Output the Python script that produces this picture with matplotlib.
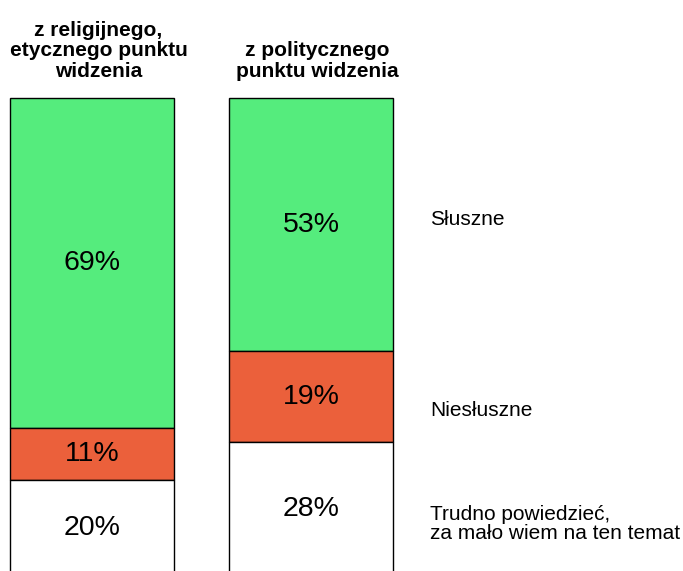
import numpy as np
import matplotlib.pyplot as plt

plt.rcParams['font.family'] = ['Liberation Sans', 'DejaVu Sans']

# dane
kategorie = ['z religijnego,\netycznego punktu\nwidzenia', 'z politycznego\npunktu widzenia']
serie = ['Słuszne', 'Niesłuszne', 'Trudno powiedzieć,\nza mało wiem na ten temat']
sluszne = [69, 53]
niesluszne = [11, 19]
trudno = [20, 28]

kolory = ['#55EC7D', '#EB603B', '#FFFFFF']
etykiety_y = [25.5, 65.3, 89.1]

fig = plt.figure(figsize=(6.83, 5.71), dpi=100)
ax = fig.add_axes([0, -0.0088, 1, 0.8372])
ax.set_xlim(-0.42, 2.699)
ax.set_ylim(100, 0)  # od gory do dolu
ax.axis('off')

x = np.arange(len(kategorie))
dol = np.zeros(len(kategorie))
for wartosci, kolor in zip([sluszne, niesluszne, trudno], kolory):
    ax.bar(x, wartosci, width=0.749, bottom=dol, color=kolor,
           edgecolor='black', linewidth=1.0, clip_on=False)
    for xi, d, v in zip(x, dol, wartosci):
        ax.text(xi, d + v / 2, f'{v}%', ha='center', va='center', fontsize=20.5)
    dol += np.array(wartosci)

# tytuly kolumn
for xi, kat in zip(x, kategorie):
    ax.text(xi + 0.03, -3.6, kat, ha='center', va='bottom', fontsize=15,
            fontweight='bold', linespacing=1.1, clip_on=False)

# legenda po prawej
for nazwa, y in zip(serie, etykiety_y):
    ax.text(1.543, y, nazwa, ha='left', va='center', fontsize=15, linespacing=1.0)

plt.savefig('out.png', dpi=100)
